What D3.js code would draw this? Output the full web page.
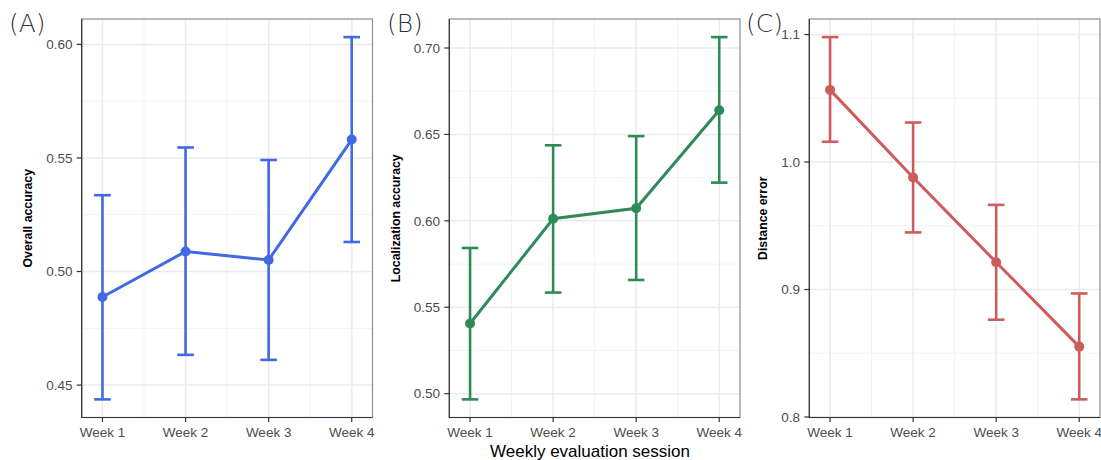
<!DOCTYPE html>
<html>
<head>
<meta charset="utf-8">
<script src="https://cdn.jsdelivr.net/npm/d3@7"></script>
<style>
  body { margin: 0; background: #fff; }
</style>
</head>
<body>
<svg id="chart" width="1101" height="460"></svg>
<script>
const weeks = ["Week 1", "Week 2", "Week 3", "Week 4"];

// Overall accuracy (A)
const overallMean = [0.4888, 0.5088, 0.5051, 0.5581];
const overallLow = [0.4437, 0.4633, 0.4611, 0.5130];
const overallHigh = [0.5336, 0.5546, 0.5491, 0.6032];
const overallTicks = [0.45, 0.50, 0.55, 0.60];

// Localization accuracy (B)
const locMean = [0.5406, 0.6012, 0.6073, 0.6640];
const locLow = [0.4967, 0.5585, 0.5658, 0.6221];
const locHigh = [0.5843, 0.6437, 0.6490, 0.7063];
const locTicks = [0.50, 0.55, 0.60, 0.65, 0.70];

// Distance error (C)
const distMean = [1.0566, 0.9878, 0.9214, 0.8552];
const distLow = [1.0159, 0.9448, 0.8763, 0.8138];
const distHigh = [1.0980, 1.0310, 0.9664, 0.8969];
const distTicks = [0.8, 0.9, 1.0, 1.1];

const FONT = "'Liberation Sans', Arial, Helvetica, sans-serif";
const svg = d3.select("#chart");
const plotTop = 19, plotBottom = 417.5;

function drawPanel(opts) {
    const { left, right, label, labelX, title, titleX, mean, low, high, ticks, fmt, color } = opts;
    const g = svg.append("g");

    // ggplot style 5% expansion of data range
    const lo = d3.min(low), hi = d3.max(high);
    const pad = (hi - lo) * 0.05;
    const y = d3.scaleLinear().domain([lo - pad, hi + pad]).range([plotBottom, plotTop]);

    // discrete x with quarter-step padding
    const step = (right - left) / 3.5;
    const x = i => left + step * (0.25 + i);

    // minor grid
    const minorY = [];
    for (let i = 0; i < ticks.length - 1; i++) minorY.push((ticks[i] + ticks[i + 1]) / 2);
    const tstep = ticks[1] - ticks[0];
    minorY.push(ticks[0] - tstep / 2, ticks[ticks.length - 1] + tstep / 2);
    g.selectAll(".minory").data(minorY.filter(v => y(v) > plotTop && y(v) < plotBottom)).enter().append("line")
        .attr("x1", left).attr("x2", right)
        .attr("y1", d => y(d)).attr("y2", d => y(d))
        .attr("stroke", "#f3f3f3").attr("stroke-width", 1);
    g.selectAll(".minorx").data([0.5, 1.5, 2.5]).enter().append("line")
        .attr("x1", d => x(d)).attr("x2", d => x(d))
        .attr("y1", plotTop).attr("y2", plotBottom)
        .attr("stroke", "#f3f3f3").attr("stroke-width", 1);

    // major grid
    g.selectAll(".majory").data(ticks).enter().append("line")
        .attr("x1", left).attr("x2", right)
        .attr("y1", d => y(d)).attr("y2", d => y(d))
        .attr("stroke", "#ebebeb").attr("stroke-width", 1.5);
    g.selectAll(".majorx").data(weeks).enter().append("line")
        .attr("x1", (d, i) => x(i)).attr("x2", (d, i) => x(i))
        .attr("y1", plotTop).attr("y2", plotBottom)
        .attr("stroke", "#ebebeb").attr("stroke-width", 1.5);

    // border
    g.append("rect")
        .attr("x", left).attr("y", plotTop)
        .attr("width", right - left).attr("height", plotBottom - plotTop)
        .attr("fill", "none").attr("stroke", "#8c8c8c").attr("stroke-width", 1.2);
    g.append("path")
        .attr("d", `M${left},${plotTop}V${plotBottom}H${right}`)
        .attr("fill", "none").attr("stroke", "#333").attr("stroke-width", 1.2);

    // y ticks
    g.selectAll(".ytick").data(ticks).enter().append("line")
        .attr("x1", left - 5).attr("x2", left)
        .attr("y1", d => y(d)).attr("y2", d => y(d))
        .attr("stroke", "#333").attr("stroke-width", 1.2);
    g.selectAll(".ylab").data(ticks).enter().append("text")
        .attr("x", left - 9.2).attr("y", d => y(d))
        .attr("dy", "0.35em").attr("text-anchor", "end")
        .attr("font-family", FONT)
        .attr("font-size", 13.5).attr("fill", "#4d4d4d")
        .text(d => fmt(d));

    // x ticks
    g.selectAll(".xtick").data(weeks).enter().append("line")
        .attr("x1", (d, i) => x(i)).attr("x2", (d, i) => x(i))
        .attr("y1", plotBottom).attr("y2", plotBottom + 4.5)
        .attr("stroke", "#333").attr("stroke-width", 1.2);
    g.selectAll(".xlab").data(weeks).enter().append("text")
        .attr("x", (d, i) => x(i)).attr("y", plotBottom + 19)
        .attr("text-anchor", "middle")
        .attr("font-family", FONT)
        .attr("font-size", 13.5).attr("fill", "#4d4d4d")
        .text(d => d);

    // y title
    g.append("text")
        .attr("transform", `translate(${titleX},${(plotTop + plotBottom) / 2}) rotate(-90)`)
        .attr("text-anchor", "middle").attr("dy", "0.35em")
        .attr("font-family", FONT)
        .attr("font-size", 12.3).attr("font-weight", "bold").attr("fill", "#000")
        .text(title);

    // error bars
    const capW = step * 0.1;
    const eb = g.selectAll(".eb").data(mean).enter().append("g");
    eb.append("line")
        .attr("x1", (d, i) => x(i)).attr("x2", (d, i) => x(i))
        .attr("y1", (d, i) => y(low[i])).attr("y2", (d, i) => y(high[i]))
        .attr("stroke", color).attr("stroke-width", 2.6);
    eb.append("line")
        .attr("x1", (d, i) => x(i) - capW).attr("x2", (d, i) => x(i) + capW)
        .attr("y1", (d, i) => y(low[i])).attr("y2", (d, i) => y(low[i]))
        .attr("stroke", color).attr("stroke-width", 2.6);
    eb.append("line")
        .attr("x1", (d, i) => x(i) - capW).attr("x2", (d, i) => x(i) + capW)
        .attr("y1", (d, i) => y(high[i])).attr("y2", (d, i) => y(high[i]))
        .attr("stroke", color).attr("stroke-width", 2.6);

    // line + points
    g.append("path")
        .datum(mean)
        .attr("d", d3.line().x((d, i) => x(i)).y(d => y(d)))
        .attr("fill", "none").attr("stroke", color).attr("stroke-width", 3);
    g.selectAll(".pt").data(mean).enter().append("circle")
        .attr("cx", (d, i) => x(i)).attr("cy", d => y(d))
        .attr("r", 5).attr("fill", color);

    // panel label
    svg.append("text")
        .attr("x", labelX).attr("y", 31.5)
        .attr("font-size", 25).attr("fill", "#333")
        .attr("font-family", "'DejaVu Sans', sans-serif").attr("font-weight", 200)
        .text(label);
}

drawPanel({ left: 81.7, right: 372.5, label: "(A)", labelX: 9, title: "Overall accuracy", titleX: 28,
    mean: overallMean, low: overallLow, high: overallHigh, ticks: overallTicks,
    fmt: d3.format(".2f"), color: "#4169E1" });
drawPanel({ left: 449.3, right: 740, label: "(B)", labelX: 387, title: "Localization accuracy", titleX: 396,
    mean: locMean, low: locLow, high: locHigh, ticks: locTicks,
    fmt: d3.format(".2f"), color: "#2E8B57" });
drawPanel({ left: 809.3, right: 1100, label: "(C)", labelX: 746, title: "Distance error", titleX: 763,
    mean: distMean, low: distLow, high: distHigh, ticks: distTicks,
    fmt: d3.format(".1f"), color: "#CD5C5C" });

svg.append("text")
    .attr("x", 590).attr("y", 457)
    .attr("text-anchor", "middle")
    .attr("font-family", FONT)
    .attr("font-size", 17).attr("fill", "#000")
    .text("Weekly evaluation session");
</script>
</body>
</html>
